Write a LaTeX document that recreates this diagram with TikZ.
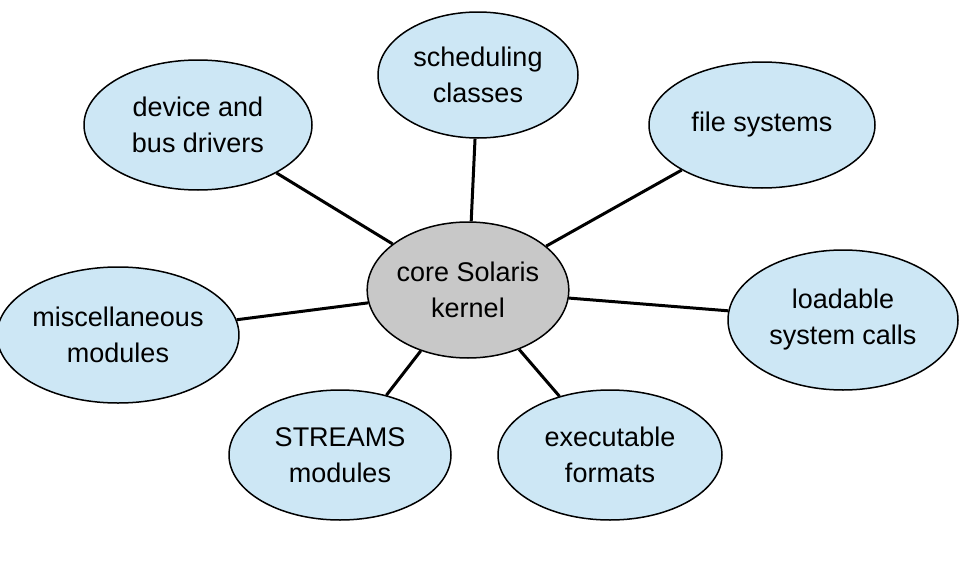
\documentclass[tikz,border=0pt]{standalone}
\usepackage{fontspec}
\setmainfont{Liberation Sans}
\usetikzlibrary{shapes.geometric}
\definecolor{lblue}{HTML}{CDE7F5}
\definecolor{kgray}{HTML}{C8C8C8}
\tikzset{
  mod/.style={ellipse,draw=black,line width=1.5pt,fill=lblue,inner sep=0pt,align=center,font=\fontsize{27}{36}\selectfont},
  link/.style={line width=3pt}
}
\begin{document}
\begin{tikzpicture}[x=1pt,y=-1pt]
\useasboundingbox (0,0) rectangle (967,562);
\node[mod,fill=kgray,minimum width=196,minimum height=136] (k) at (468,290) {core Solaris\\kernel};
\node[mod,minimum width=200,minimum height=126] (s) at (478,75) {scheduling\\classes};
\node[mod,minimum width=228,minimum height=130] (d) at (198,125) {device and\\bus drivers};
\node[mod,minimum width=226,minimum height=126] (f) at (762,125) {file systems};
\node[mod,minimum width=230,minimum height=136] (m) at (118,335) {miscellaneous\\modules};
\node[mod,minimum width=230,minimum height=140] (l) at (843,320) {loadable\\system calls};
\node[mod,minimum width=222,minimum height=130] (t) at (340,455) {STREAMS\\modules};
\node[mod,minimum width=224,minimum height=130] (e) at (610,455) {executable\\formats};
\foreach \n in {s,d,f,m,l,t,e} \draw[link] (k) -- (\n);
\end{tikzpicture}
\end{document}
